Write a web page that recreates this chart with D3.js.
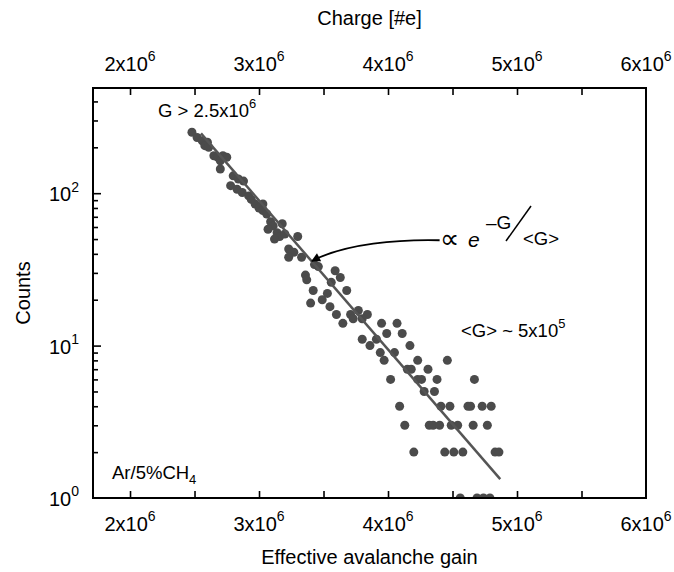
<!DOCTYPE html>
<html>
<head>
<meta charset="utf-8">
<script src="https://cdn.jsdelivr.net/npm/d3@7"></script>
<style>
  body { margin: 0; background: #fff; }
  svg { font-family: 'Liberation Sans', Arial, sans-serif; }
</style>
</head>
<body>
<div id="root"></div>
<script>
// effective gain, in units of 10^6
const gain = [
  2.48, 2.52, 2.56, 2.60, 2.58, 2.61, 2.65, 2.68, 2.72, 2.75, 2.70, 2.70,
  2.80, 2.84, 2.88, 2.78, 2.83, 2.87, 2.92, 2.94, 2.97, 3.00, 3.03, 3.03,
  3.06, 3.09, 3.11, 3.18, 3.07, 3.14, 3.16, 3.20, 3.12, 3.30, 3.23, 3.27,
  3.23, 3.33, 3.43, 3.46, 3.36, 3.37, 3.59, 3.63, 3.56, 3.42, 3.68, 3.53,
  3.49, 3.40, 3.55, 3.77, 3.60, 3.65, 3.71, 3.84, 3.80, 3.73, 3.95, 4.07,
  3.99, 4.11, 3.80, 3.91, 3.86, 4.17, 3.94, 4.05, 3.97, 4.23, 4.46, 4.15,
  4.18, 4.31, 4.02, 4.23, 4.26, 4.38, 4.67, 4.28, 4.36,
  4.09, 4.41, 4.48, 4.62, 4.64, 4.73, 4.80,
  4.13, 4.32, 4.35, 4.40, 4.49, 4.54, 4.66, 4.77,
  4.20, 4.44, 4.51, 4.58, 4.83, 4.86,
  4.56, 4.69, 4.74, 4.79,
];
const counts = [
  251, 232, 221, 216, 205, 200, 176, 172, 176, 172, 163, 144,
  130, 124, 120, 112, 106, 101, 96, 91, 85, 80, 85, 77,
  73, 65, 61, 63, 58, 55, 52, 54, 50, 52, 43, 41,
  38, 38, 34, 33, 29, 27, 31, 28, 26, 23, 23, 22,
  20, 19, 18, 17, 16, 14, 16, 16, 15, 15, 14, 14,
  12, 12, 11, 11, 10, 10, 9, 9, 8, 8, 8, 7,
  7, 7, 6, 6, 6, 6, 6, 5, 5,
  4, 4, 4, 4, 4, 4, 4,
  3, 3, 3, 3, 3, 3, 3, 3,
  2, 2, 2, 2, 2, 2,
  1, 1, 1, 1,
];

// exponential fit, end points
const fitGain = [2.55, 4.87];
const fitCounts = [247, 1.33];

const xTickValues = [2, 2.5, 3, 3.5, 4, 4.5, 5, 5.5];
const xLabelValues = [2, 3, 4, 5, 6];
const yLabelValues = [1, 10, 100];
const yLabelExponents = ['0', '1', '2'];

const svgWidth = 674;
const svgHeight = 572;
const frame = { left: 93, right: 646, top: 88, bottom: 498 };
const font = 20;
const noteFont = 18.5;
const dotColor = '#4b4b4b';

const svg = d3.select('#root').append('svg')
  .attr('width', svgWidth)
  .attr('height', svgHeight);

const x = d3.scaleLinear()
  .domain([1.713, 6])
  .range([frame.left, frame.right]);

const y = d3.scaleLog()
  .domain([1, 490])
  .range([frame.bottom, frame.top]);

// minor + major log ticks
const yTickValues = [];
[1, 10, 100].forEach(p => {
  for (let k = 1; k < 10; k++) {
    if (p * k <= 490 && p * k > 1) yTickValues.push(p * k);
  }
});

const defs = svg.append('defs');

defs.append('clipPath')
  .attr('id', 'plot-clip')
  .append('rect')
  .attr('x', frame.left)
  .attr('y', frame.top)
  .attr('width', frame.right - frame.left)
  .attr('height', frame.bottom - frame.top);

defs.append('marker')
  .attr('id', 'arrow')
  .attr('viewBox', '0 0 10 10')
  .attr('refX', 9)
  .attr('refY', 5)
  .attr('markerUnits', 'userSpaceOnUse')
  .attr('markerWidth', 12)
  .attr('markerHeight', 9)
  .attr('orient', 'auto')
  .append('path')
  .attr('d', 'M0,0 L10,5 L0,10 z')
  .attr('fill', '#000');

// data
const plot = svg.append('g').attr('clip-path', 'url(#plot-clip)');

plot.selectAll('circle')
  .data(gain.map((g, i) => ({ g, c: counts[i] })))
  .enter()
  .append('circle')
  .attr('cx', d => x(d.g))
  .attr('cy', d => y(d.c))
  .attr('r', 4.5)
  .attr('fill', dotColor);

plot.append('path')
  .datum(fitGain.map((g, i) => [g, fitCounts[i]]))
  .attr('d', d3.line().x(d => x(d[0])).y(d => y(d[1])))
  .attr('fill', 'none')
  .attr('stroke', '#555')
  .attr('stroke-width', 2.5);

// axes (ticks point inwards)
const bottomAxis = d3.axisBottom(x)
  .tickValues(xTickValues)
  .tickSize(-7)
  .tickSizeOuter(0)
  .tickFormat(() => '');
svg.append('g')
  .attr('transform', `translate(0, ${frame.bottom})`)
  .call(bottomAxis);

const topAxis = d3.axisTop(x)
  .tickValues(xTickValues)
  .tickSize(-7)
  .tickSizeOuter(0)
  .tickFormat(() => '');
svg.append('g')
  .attr('transform', `translate(0, ${frame.top})`)
  .call(topAxis);

const leftAxis = d3.axisLeft(y)
  .tickValues(yTickValues)
  .tickSize(-4)
  .tickSizeOuter(0)
  .tickFormat(() => '');
const leftG = svg.append('g')
  .attr('transform', `translate(${frame.left}, 0)`)
  .call(leftAxis);
leftG.selectAll('.tick line')
  .attr('x2', d => (d === 10 || d === 100 ? 8 : 5));

svg.selectAll('.tick line')
  .attr('stroke', '#000')
  .attr('stroke-width', 1.6);
svg.selectAll('.domain').remove();

svg.append('rect')
  .attr('x', frame.left)
  .attr('y', frame.top)
  .attr('width', frame.right - frame.left)
  .attr('height', frame.bottom - frame.top)
  .attr('fill', 'none')
  .attr('stroke', '#000')
  .attr('stroke-width', 2);

// tick labels with superscripts
function powerLabel(text, mantissa, exponent, size) {
  text.append('tspan').text(mantissa);
  text.append('tspan')
    .attr('dy', -size * 0.48)
    .attr('font-size', size * 0.7)
    .text(exponent);
}

svg.selectAll('.x-label-bottom')
  .data(xLabelValues)
  .enter()
  .append('text')
  .attr('class', 'x-label-bottom')
  .attr('x', d => x(d))
  .attr('y', 531)
  .attr('text-anchor', 'middle')
  .attr('font-size', font)
  .each(function (d) { powerLabel(d3.select(this), `${d}x10`, '6', font); });

svg.selectAll('.x-label-top')
  .data(xLabelValues)
  .enter()
  .append('text')
  .attr('class', 'x-label-top')
  .attr('x', d => x(d))
  .attr('y', 71)
  .attr('text-anchor', 'middle')
  .attr('font-size', font)
  .each(function (d) { powerLabel(d3.select(this), `${d}x10`, '6', font); });

svg.selectAll('.y-label')
  .data(yLabelValues)
  .enter()
  .append('text')
  .attr('class', 'y-label')
  .attr('x', 79)
  .attr('y', d => y(d) + 8)
  .attr('text-anchor', 'end')
  .attr('font-size', font)
  .each(function (d, i) { powerLabel(d3.select(this), '10', yLabelExponents[i], font); });

// axis titles
svg.append('text')
  .attr('x', (frame.left + frame.right) / 2)
  .attr('y', 564)
  .attr('text-anchor', 'middle')
  .attr('font-size', font)
  .text('Effective avalanche gain');

svg.append('text')
  .attr('x', (frame.left + frame.right) / 2)
  .attr('y', 25)
  .attr('text-anchor', 'middle')
  .attr('font-size', font)
  .text('Charge [#e]');

svg.append('text')
  .attr('transform', `translate(30, ${(frame.top + frame.bottom) / 2}) rotate(-90)`)
  .attr('text-anchor', 'middle')
  .attr('font-size', font)
  .text('Counts');

// annotations
const cut = svg.append('text')
  .attr('x', 158)
  .attr('y', 117)
  .attr('font-size', noteFont);
powerLabel(cut, 'G > 2.5x10', '6', noteFont);

const mean = svg.append('text')
  .attr('x', 461)
  .attr('y', 337)
  .attr('font-size', noteFont);
powerLabel(mean, '<G> ~ 5x10', '5', noteFont);

const gas = svg.append('text')
  .attr('x', 112)
  .attr('y', 479)
  .attr('font-size', noteFont);
gas.append('tspan').text('Ar/5%CH');
gas.append('tspan').attr('dy', 5).attr('font-size', 13).text('4');

const formula = svg.append('g');
formula.append('text')
  .attr('x', 440)
  .attr('y', 248)
  .attr('font-size', 27)
  .text('\u221D');
formula.append('text')
  .attr('x', 468)
  .attr('y', 247)
  .attr('font-size', 21)
  .attr('font-style', 'italic')
  .text('e');
formula.append('text')
  .attr('x', 486)
  .attr('y', 229)
  .attr('font-size', 19)
  .text('\u2013G');
formula.append('line')
  .attr('x1', 506).attr('y1', 241)
  .attr('x2', 531).attr('y2', 206)
  .attr('stroke', '#000')
  .attr('stroke-width', 1.5);
formula.append('text')
  .attr('x', 523)
  .attr('y', 245)
  .attr('font-size', 18.5)
  .text('<G>');

const arrowPath = d3.path();
arrowPath.moveTo(x(4.40), y(49.1));
arrowPath.bezierCurveTo(x(4.09), y(49.8), x(3.67), y(46.9), x(3.41), y(35.9));
svg.append('path')
  .attr('d', arrowPath.toString())
  .attr('fill', 'none')
  .attr('stroke', '#000')
  .attr('stroke-width', 1.8)
  .attr('marker-end', 'url(#arrow)');
</script>
</body>
</html>
